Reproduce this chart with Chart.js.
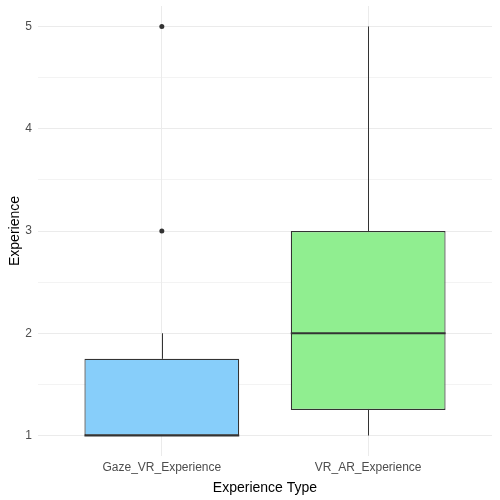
<!DOCTYPE html>
<html>
<head>
<meta charset="utf-8">
<script src="https://cdn.jsdelivr.net/npm/chart.js@4"></script>
<style>
  html, body { margin: 0; padding: 0; background: #fff; }
  #wrap { width: 500px; height: 500px; }
</style>
</head>
<body>
<div id="wrap"><canvas id="chart"></canvas></div>
<script>
// box plot data
const categories = ["Gaze_VR_Experience", "VR_AR_Experience"];
const lowerWhisker = [1, 1];
const q1 = [1, 1.25];
const medians = [1, 2];
const q3 = [1.75, 3];
const upperWhisker = [2, 5];
const outliers = [[3, 5], []];
const boxColors = ["#87CEFA", "#90EE90"];
const yTicks = [1, 1.5, 2, 2.5, 3, 3.5, 4, 4.5, 5];

const boxWidth = 0.75;
const edge = "#333333";

// whiskers + median drawn from the arrays above using chart scales
const boxPlotLines = {
    id: "boxPlotLines",
    beforeDatasetsDraw(chart) {
        const { ctx, scales: { x, y } } = chart;
        ctx.save();
        ctx.strokeStyle = edge;
        ctx.lineWidth = 1;
        categories.forEach((c, i) => {
            const px = Math.round(x.getPixelForValue(i + 1)) + 0.5;
            ctx.beginPath();
            ctx.moveTo(px, y.getPixelForValue(lowerWhisker[i]));
            ctx.lineTo(px, y.getPixelForValue(q1[i]));
            ctx.moveTo(px, y.getPixelForValue(q3[i]));
            ctx.lineTo(px, y.getPixelForValue(upperWhisker[i]));
            ctx.stroke();
        });
        ctx.restore();
    },
    afterDatasetsDraw(chart) {
        const { ctx, scales: { x, y } } = chart;
        ctx.save();
        ctx.strokeStyle = edge;
        ctx.lineWidth = 2;
        categories.forEach((c, i) => {
            const x0 = x.getPixelForValue(i + 1 - boxWidth / 2);
            const x1 = x.getPixelForValue(i + 1 + boxWidth / 2);
            const py = y.getPixelForValue(medians[i]);
            ctx.beginPath();
            ctx.moveTo(x0, py);
            ctx.lineTo(x1, py);
            ctx.stroke();
        });
        ctx.restore();
    }
};

const outlierPoints = [];
outliers.forEach((vals, i) => vals.forEach(v => outlierPoints.push({ x: i + 1, y: v })));

const ctx = document.getElementById("chart").getContext("2d");
new Chart(ctx, {
    type: "bar",
    data: {
        datasets: [{
            type: "bar",
            data: categories.map((c, i) => ({ x: i + 1, y: [q1[i], q3[i]] })),
            backgroundColor: boxColors,
            borderColor: edge,
            borderWidth: 1.2,
            borderSkipped: false,
            categoryPercentage: 1,
            barPercentage: boxWidth,
            order: 2
        }, {
            type: "scatter",
            data: outlierPoints,
            pointRadius: 2.5,
            pointBackgroundColor: edge,
            pointBorderColor: edge,
            pointBorderWidth: 0,
            order: 1
        }]
    },
    options: {
        responsive: true,
        maintainAspectRatio: false,
        animation: false,
        layout: { padding: { top: 6, right: 8, left: 0, bottom: 0 } },
        plugins: { legend: { display: false }, tooltip: { enabled: false } },
        scales: {
            x: {
                type: "linear",
                min: 0.4,
                max: 2.6,
                offset: false,
                afterBuildTicks: s => { s.ticks = categories.map((c, i) => ({ value: i + 1 })); },
                afterFit: s => { s.height = 44; s.paddingLeft = 0; s.paddingRight = 0; },
                ticks: {
                    callback: (v) => categories[v - 1] || "",
                    color: "#4d4d4d",
                    font: { family: "Liberation Sans", size: 12 },
                    padding: 4,
                    maxRotation: 0
                },
                grid: { color: "#ebebeb", lineWidth: 1, drawTicks: false, offset: false },
                border: { display: false },
                title: {
                    display: true,
                    text: "Experience Type",
                    color: "#000",
                    font: { family: "Liberation Sans", size: 14 },
                    padding: { top: 2, bottom: 3 }
                }
            },
            y: {
                type: "linear",
                min: 0.8,
                max: 5.2,
                afterBuildTicks: s => { s.ticks = yTicks.map(v => ({ value: v })); },
                afterFit: s => { s.width = 38; s.paddingTop = 0; s.paddingBottom = 0; },
                ticks: {
                    callback: v => Number.isInteger(v) ? v : "",
                    color: "#4d4d4d",
                    font: { family: "Liberation Sans", size: 12 },
                    padding: 6
                },
                grid: {
                    color: "#ebebeb",
                    lineWidth: c => Number.isInteger(c.tick && c.tick.value) ? 1 : 0.6,
                    drawTicks: false
                },
                border: { display: false },
                title: {
                    display: true,
                    text: "Experience",
                    color: "#000",
                    font: { family: "Liberation Sans", size: 14 },
                    padding: { top: 7, bottom: 0 }
                }
            }
        }
    },
    plugins: [boxPlotLines]
});
</script>
</body>
</html>
